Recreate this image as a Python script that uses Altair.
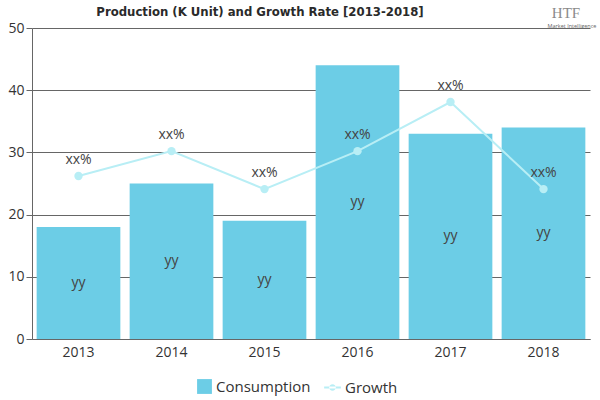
import altair as alt
import pandas as pd

years = ["2013", "2014", "2015", "2016", "2017", "2018"]
consumption = [18, 25, 19, 44, 33, 34]
growth = [26.2, 30.2, 24.1, 30.2, 38.1, 24.1]
bar_labels = ["yy"] * 6
growth_labels = ["xx%"] * 6

df = pd.DataFrame({
    "year": years,
    "consumption": consumption,
    "growth": growth,
    "bl": bar_labels,
    "gl": growth_labels,
    "s1": ["Consumption"] * 6,
    "s2": ["Growth"] * 6,
})

BAR = "#6ccde6"
LINE = "#b8eef5"
FONT = "Open Sans"

x = alt.X("year:N", title=None,
          scale=alt.Scale(paddingInner=0.1, paddingOuter=0.05),
          axis=alt.Axis(labelAngle=0, labelFontSize=14, labelColor="#333", labelFont=FONT,
                        domainColor="#666", ticks=False, labelPadding=6))
y_scale = alt.Scale(domain=[0, 50])
y_axis = alt.Axis(values=[0, 10, 20, 30, 40, 50], labelFontSize=14, labelColor="#333",
                  labelFont=FONT, domainColor="#666", tickColor="#666", tickSize=6,
                  gridColor="#666", gridOpacity=1, labelPadding=2)

base = alt.Chart(df)

bars = base.mark_bar(color=BAR).encode(
    x=x,
    y=alt.Y("consumption:Q", title=None, scale=y_scale, axis=y_axis),
    color=alt.Color("s1:N", scale=alt.Scale(range=[BAR]),
                    legend=alt.Legend(title=None, orient="none", legendX=165, legendY=351,
                                      symbolType="square",
                                      symbolSize=220, labelFontSize=15, labelFont=FONT,
                                      labelColor="#333", symbolStrokeWidth=0)),
)

bar_text = base.mark_text(fontSize=14, font=FONT, color="#444").encode(
    x=alt.X("year:N"),
    y=alt.Y("mid:Q", scale=y_scale),
    text="bl:N",
).transform_calculate(mid="datum.consumption / 2")

line = base.mark_line(strokeWidth=2).encode(
    x=alt.X("year:N"),
    y=alt.Y("growth:Q", scale=y_scale),
    stroke=alt.Stroke("s2:N", scale=alt.Scale(range=[LINE]),
                      legend=alt.Legend(title=None, orient="none", legendX=292, legendY=351,
                                        symbolType="M-1,-0.12H1V0.12H-1Z M-0.4,0A0.4,0.4 0 1,0 0.4,0A0.4,0.4 0 1,0 -0.4,0Z",
                                        symbolFillColor=LINE, symbolStrokeWidth=0,
                                        symbolSize=280, labelFontSize=15,
                                        labelFont=FONT, labelColor="#333")),
)

pts = base.mark_circle(size=70, color=LINE, opacity=1).encode(
    x=alt.X("year:N"),
    y=alt.Y("growth:Q", scale=y_scale),
)

line_text = base.mark_text(fontSize=14, font=FONT, color="#444", dy=-16).encode(
    x=alt.X("year:N"),
    y=alt.Y("growth:Q", scale=y_scale),
    text="gl:N",
)

title = alt.Chart(pd.DataFrame({"t": ["Production (K Unit) and Growth Rate [2013-2018]"]})).mark_text(
    font="DejaVu Sans Condensed", fontSize=13, fontWeight="bold", color="#2a2a2a",
    align="center", baseline="middle"
).encode(x=alt.value(228), y=alt.value(-16), text="t:N")

logo1 = alt.Chart(pd.DataFrame({"t": ["HTF"]})).mark_text(
    font="Liberation Serif", fontSize=15, color="#8a8a8a", align="center"
).encode(x=alt.value(534), y=alt.value(-15), text="t:N")
logo2 = alt.Chart(pd.DataFrame({"t": ["Market Intelligence"]})).mark_text(
    font=FONT, fontSize=5.5, color="#666", align="center"
).encode(x=alt.value(540), y=alt.value(-2), text="t:N")

chart = alt.layer(bars, bar_text, line, pts, line_text, title, logo1, logo2).properties(
    width=558, height=311,
    autosize=alt.AutoSizeParams(type="none"),
    padding={"left": 32, "top": 28, "right": 10, "bottom": 61},
).configure_view(stroke=None).configure_legend(direction="horizontal")

chart.save("out.html", embed_options={"renderer": "svg", "actions": False})
